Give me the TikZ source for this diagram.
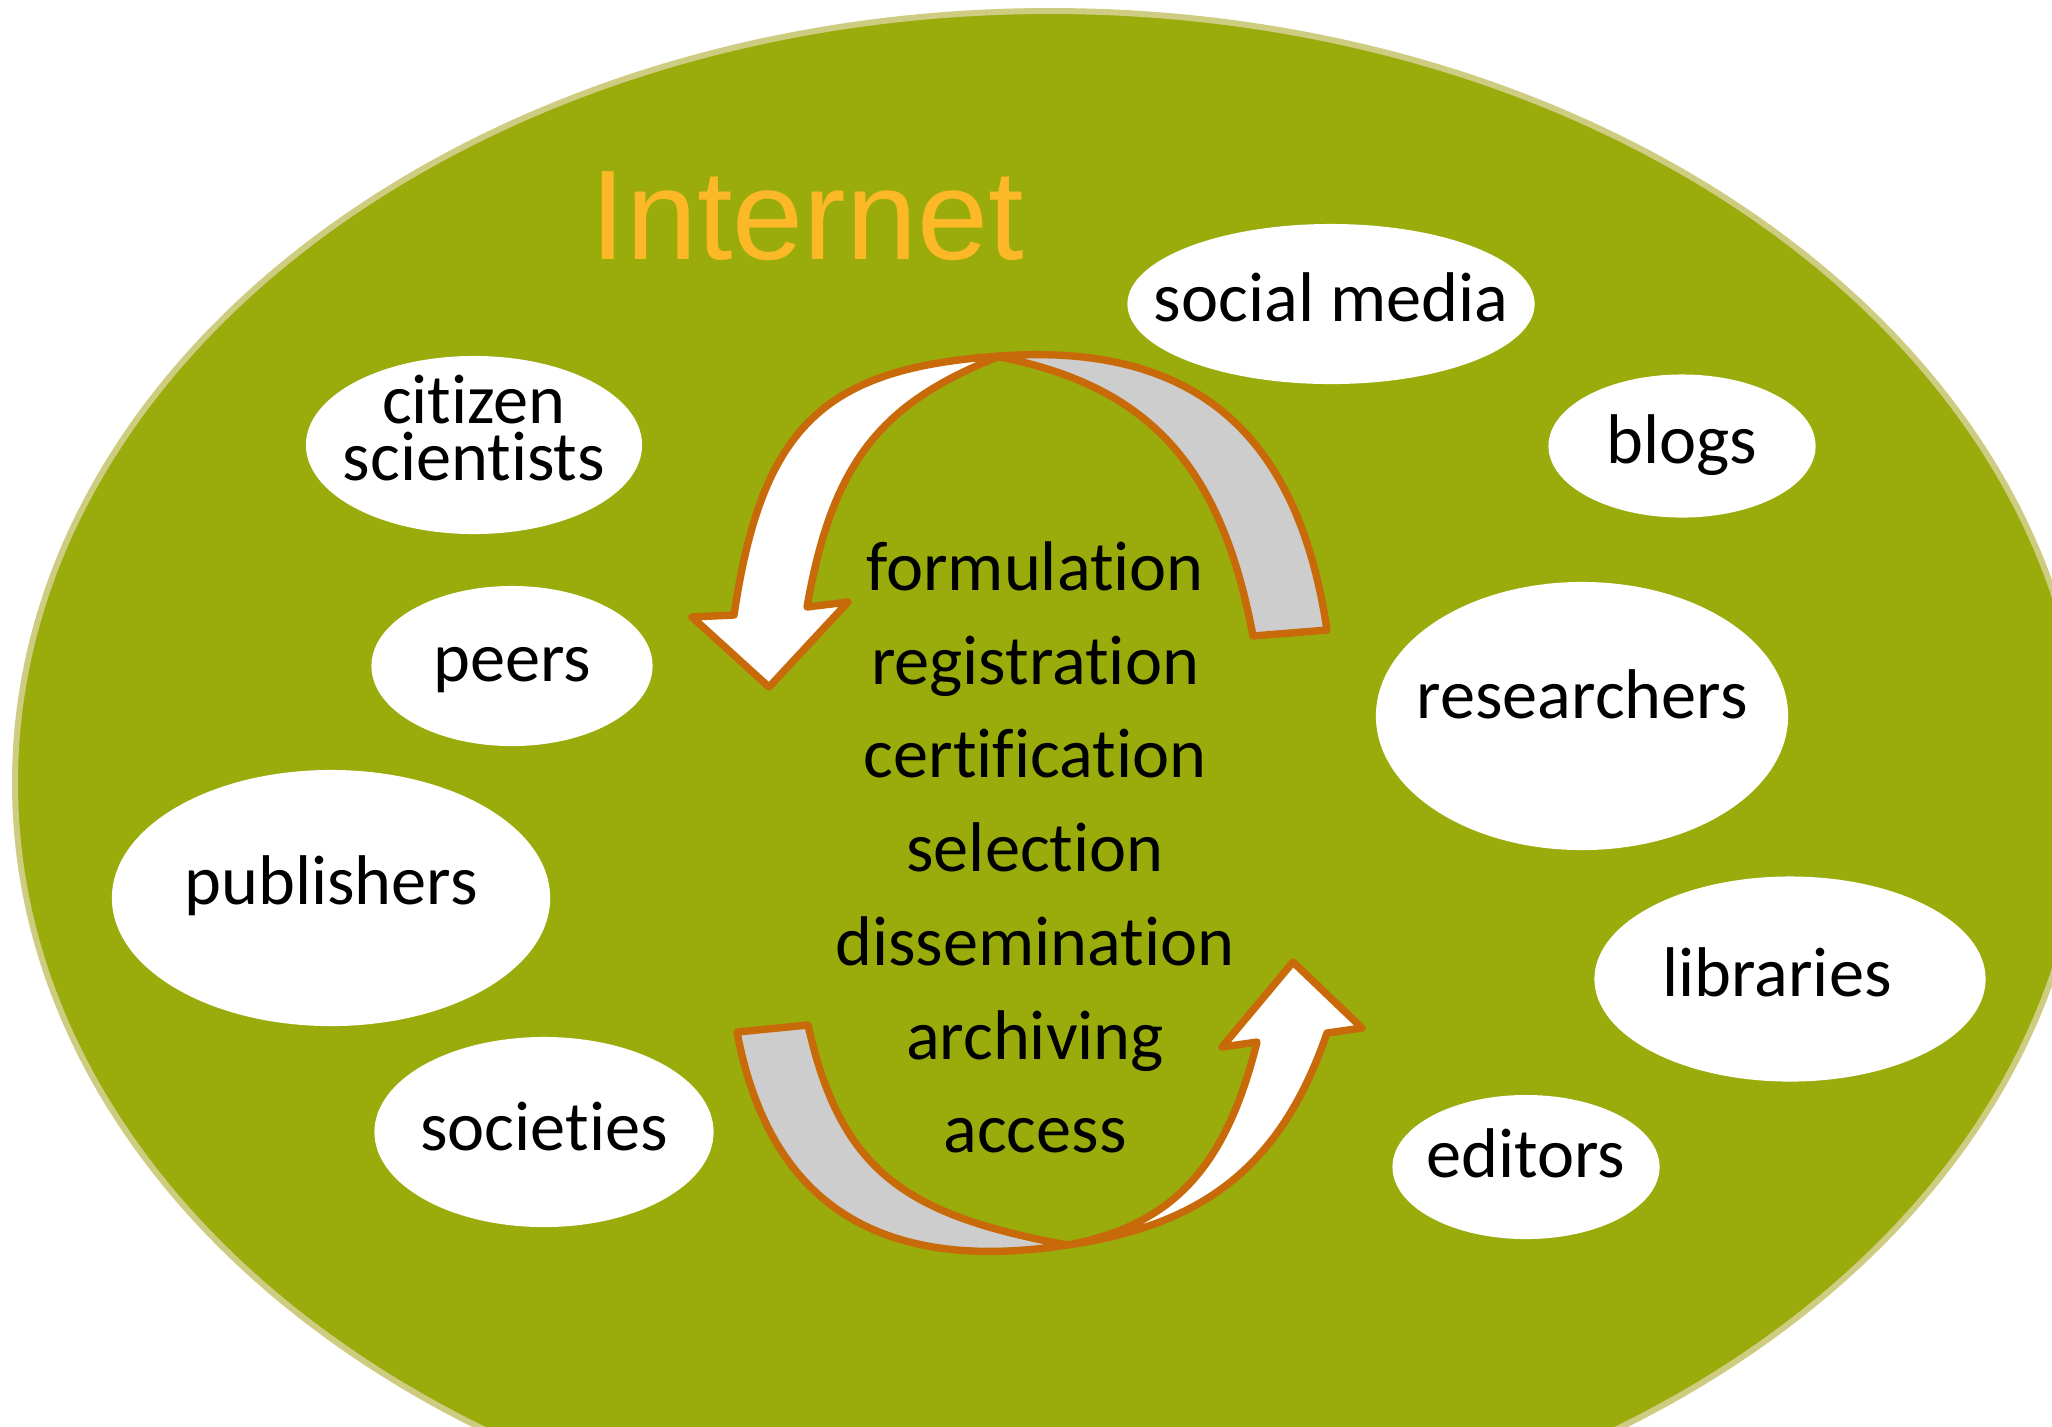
\documentclass[tikz,border=0pt]{standalone}
\usepackage{fontspec}
\setmainfont{Carlito}[Ligatures={NoCommon,NoRequired,NoContextual},Contextuals=NoAlternate]
\newfontfamily\arialf{Liberation Sans}
\usetikzlibrary{shapes.geometric}
\definecolor{olive}{HTML}{9AAB0C}
\definecolor{rim}{HTML}{CDCC80}
\definecolor{inetorange}{HTML}{FDB827}
\definecolor{arrowedge}{HTML}{C96A0A}
\definecolor{backgray}{HTML}{CDCDCD}
\tikzset{
  bubble/.style={ellipse, fill=white, draw=none, inner sep=0pt},
  lbl/.style={inner sep=0pt, anchor=base, font=\fontsize{20}{13.4}\selectfont, text=black, align=center},
  band/.style={draw=arrowedge, line width=2.1pt, line join=round},
}
\begin{document}
\begin{tikzpicture}[x=0.01cm, y=-0.01cm]
\useasboundingbox (0,0) rectangle (2052,1426);
\clip (0,0) rectangle (2052,1426);
% Internet ellipse
\fill[olive, draw=rim, line width=1.7pt] (1050,783) ellipse [x radius=1035, y radius=772];
\node[inner sep=0pt, anchor=base west, font=\arialf\fontsize{36.3}{40}\selectfont, text=inetorange] (internet) at (590,259) {Internet};

% bubbles
\node[bubble, minimum width=4.07cm, minimum height=1.60cm] (e-social) at (1331,304) {};
\node[bubble, minimum width=2.67cm, minimum height=1.43cm] (e-blogs) at (1682,446) {};
\node[bubble, minimum width=3.36cm, minimum height=1.78cm] (e-citizen) at (474,445) {};
\node[bubble, minimum width=2.81cm, minimum height=1.60cm] (e-peers) at (512,666) {};
\node[bubble, minimum width=4.38cm, minimum height=2.56cm] (e-publishers) at (331,898) {};
\node[bubble, minimum width=4.12cm, minimum height=2.68cm] (e-researchers) at (1582,716) {};
\node[bubble, minimum width=3.91cm, minimum height=2.05cm] (e-libraries) at (1790,979) {};
\node[bubble, minimum width=3.39cm, minimum height=1.90cm] (e-societies) at (544,1132) {};
\node[bubble, minimum width=2.67cm, minimum height=1.44cm] (e-editors) at (1526,1167) {};

\node[lbl] (t-social) at (1331,321) {social media};
\node[lbl] (t-blogs) at (1682,463) {blogs};
\node[lbl] (t-citizen1) at (474,423) {citizen};
\node[lbl] (t-citizen2) at (474,480) {scientists};
\node[lbl] (t-peers) at (512,681) {peers};
\node[lbl] (t-publishers) at (331,904) {publishers};
\node[lbl] (t-researchers) at (1582,718) {researchers};
\node[lbl] (t-libraries) at (1777,996) {libraries};
\node[lbl] (t-societies) at (544,1150) {societies};
\node[lbl] (t-editors) at (1526,1177) {editors};

% top circular arrow: back (gray) part
\filldraw[band, fill=backgray]
  (1000,356) .. controls (1210,341) and (1300,450) .. (1327,630)
  -- (1253,636) .. controls (1221,466) and (1150,387) .. (1000,357) -- cycle;
% top circular arrow: front (white) part with head
\filldraw[band, fill=white]
  (734,615) .. controls (762,425) and (825,368) .. (1000,356)
  .. controls (884,402) and (833,458) .. (807,607)
  -- (848,602) -- (769,687) -- (692,617) -- cycle;

% bottom circular arrow: back (gray) part
\filldraw[band, fill=backgray]
  (737,1032) .. controls (767,1192) and (867,1276) .. (1067,1245)
  .. controls (907,1215) and (841,1173) .. (808,1025) -- cycle;
% bottom circular arrow: front (white) part with head
\filldraw[band, fill=white]
  (1067,1245) .. controls (1207,1225) and (1282,1163) .. (1327,1033)
  -- (1362,1028) -- (1293,962) -- (1222,1047) -- (1257,1042)
  .. controls (1227,1162) and (1177,1225) .. (1067,1245) -- cycle;

% centre list
\foreach \w/\b [count=\i] in {formulation/590, registration/684, certification/777, selection/871, dissemination/965, archiving/1059, access/1152}
  \node[lbl] (stage-\i) at (1035,\b) {\w};
\end{tikzpicture}
\end{document}
